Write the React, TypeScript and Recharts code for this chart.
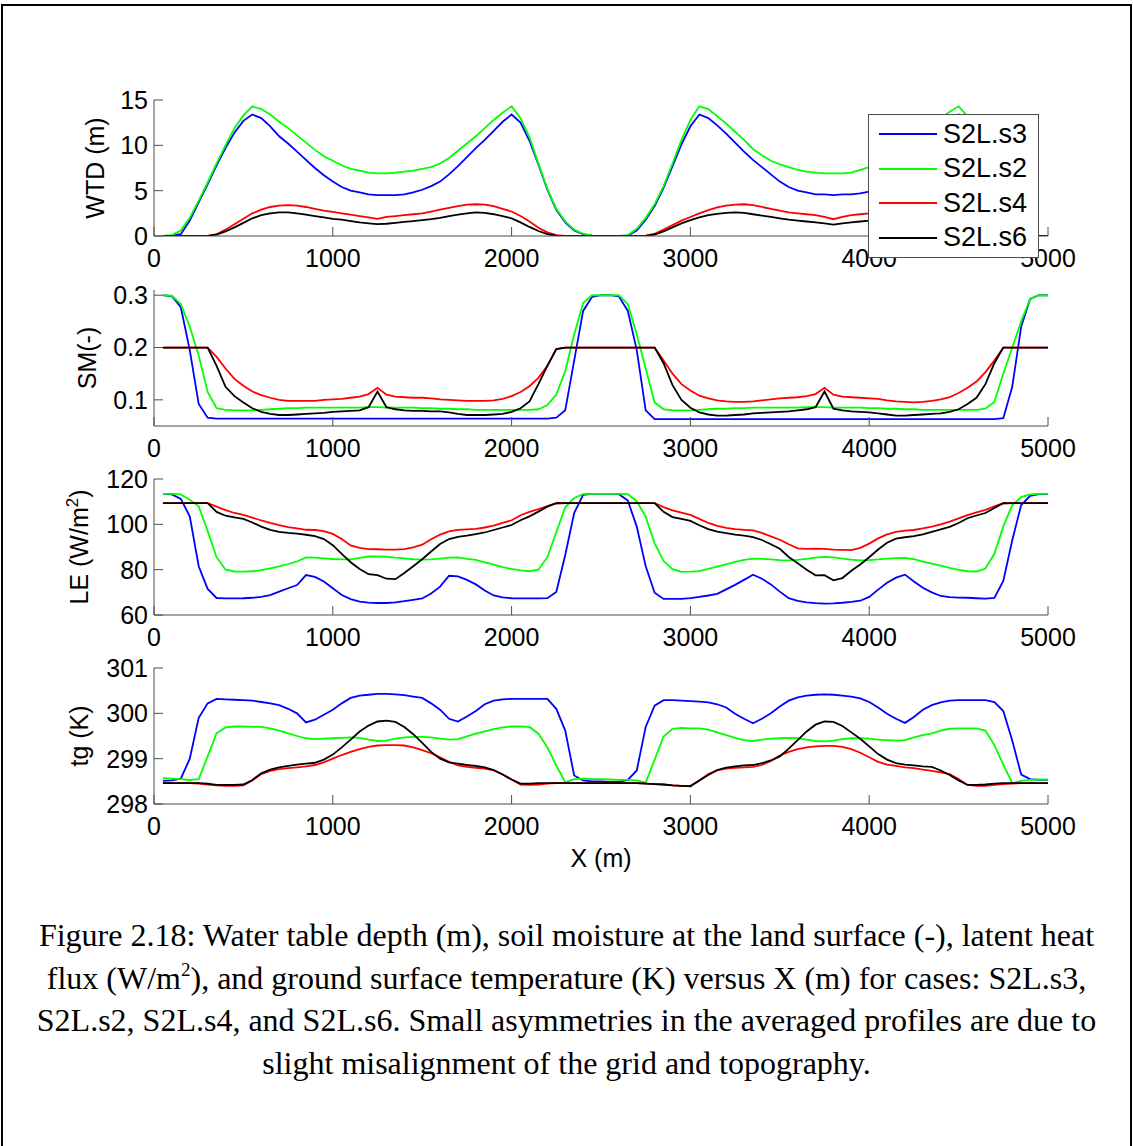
import { LineChart, Line, XAxis, YAxis } from "recharts";

// x positions of the averaged profiles (m)
const X_M = [
  50, 100, 150, 200, 250, 300, 350, 400, 450, 500,
  550, 600, 650, 700, 750, 800, 850, 900, 950, 1000,
  1050, 1100, 1150, 1200, 1250, 1300, 1350, 1400, 1450, 1500,
  1550, 1600, 1650, 1700, 1750, 1800, 1850, 1900, 1950, 2000,
  2050, 2100, 2150, 2200, 2250, 2300, 2350, 2400, 2450, 2500,
  2550, 2600, 2650, 2700, 2750, 2800, 2850, 2900, 2950, 3000,
  3050, 3100, 3150, 3200, 3250, 3300, 3350, 3400, 3450, 3500,
  3550, 3600, 3650, 3700, 3750, 3800, 3850, 3900, 3950, 4000,
  4050, 4100, 4150, 4200, 4250, 4300, 4350, 4400, 4450, 4500,
  4550, 4600, 4650, 4700, 4750, 4800, 4850, 4900, 4950, 5000,
];

const X_TICKS = [0, 1000, 2000, 3000, 4000, 5000];

const SERIES_KEYS = ["s3", "s2", "s4", "s6"];
const SERIES_NAMES = ["S2L.s3", "S2L.s2", "S2L.s4", "S2L.s6"];
const SERIES_COLORS = ["#0000ff", "#00ff00", "#ff0000", "#000000"];

// water table depth (m)
const WTD_S3 = [
  0, 0.05, 0.2, 1.7, 3.7, 5.7, 7.8, 9.7, 11.4, 12.7,
  13.4, 13.0, 12.1, 11.0, 10.2, 9.3, 8.4, 7.5, 6.7, 6.0,
  5.4, 5.0, 4.8, 4.6, 4.5, 4.5, 4.5, 4.6, 4.8, 5.1,
  5.5, 6.0, 6.8, 7.7, 8.7, 9.7, 10.6, 11.6, 12.6, 13.4,
  12.5, 10.5, 7.9, 5.1, 2.9, 1.5, 0.6, 0.2, 0.03, 0,
  0, 0, 0.05, 0.6, 1.8, 3.3, 5.3, 7.7, 10.1, 12.1,
  13.4, 13.0, 12.2, 11.3, 10.3, 9.3, 8.4, 7.6, 6.8, 6.0,
  5.4, 5.0, 4.8, 4.6, 4.6, 4.5, 4.6, 4.6, 4.7, 4.9,
  5.3, 5.8, 6.5, 7.3, 8.2, 9.2, 10.3, 11.4, 12.5, 13.4,
  12.5, 10.5, 7.9, 5.1, 2.9, 1.5, 0.6, 0.2, 0.03, 0,
];
const WTD_S2 = [
  0, 0.1, 0.6, 2.0, 3.9, 5.9, 8.0, 10.0, 11.9, 13.3,
  14.3, 14.0, 13.4, 12.6, 11.9, 11.1, 10.3, 9.5, 8.8, 8.3,
  7.8, 7.4, 7.2, 7.0, 6.9, 6.9, 7.0, 7.1, 7.2, 7.4,
  7.6, 8.0, 8.6, 9.4, 10.2, 11.0, 11.9, 12.8, 13.6, 14.3,
  13.0, 10.9, 8.0, 5.2, 3.0, 1.6, 0.7, 0.25, 0.05, 0,
  0, 0, 0.1, 0.8, 2.0, 3.5, 5.5, 8.0, 10.6, 12.8,
  14.3, 14.0, 13.2, 12.4, 11.5, 10.6, 9.6, 8.9, 8.3, 7.9,
  7.6, 7.3, 7.1, 7.0, 6.9, 6.9, 6.9, 7.0, 7.3, 7.6,
  7.9, 8.3, 8.9, 9.6, 10.4, 11.2, 12.1, 13.0, 13.7, 14.3,
  13.2, 11.0, 8.2, 5.4, 3.1, 1.6, 0.7, 0.2, 0.05, 0,
];
const WTD_S4 = [
  0, 0, 0, 0, 0, 0.02, 0.2, 0.7, 1.3, 1.9,
  2.5, 2.9, 3.2, 3.35, 3.4, 3.35, 3.2, 3.0, 2.8, 2.65,
  2.5, 2.35, 2.2, 2.05, 1.9, 2.1, 2.2, 2.3, 2.4, 2.5,
  2.7, 2.9, 3.1, 3.3, 3.45, 3.5, 3.45, 3.3, 3.0, 2.7,
  2.2, 1.6, 0.9, 0.4, 0.1, 0, 0, 0, 0, 0,
  0, 0, 0, 0, 0.05, 0.25, 0.7, 1.2, 1.7, 2.1,
  2.5, 2.85, 3.15, 3.35, 3.45, 3.5, 3.4, 3.2, 3.0, 2.8,
  2.6, 2.5, 2.4, 2.3, 2.1, 1.85, 2.1, 2.3, 2.4, 2.5,
  2.6, 2.8, 3.0, 3.2, 3.35, 3.45, 3.4, 3.3, 3.1, 2.8,
  2.4, 1.8, 1.2, 0.6, 0.25, 0.05, 0, 0, 0, 0,
];
const WTD_S6 = [
  0, 0, 0, 0, 0, 0.01, 0.15, 0.5, 0.95, 1.45,
  1.95, 2.3, 2.5, 2.6, 2.6, 2.5, 2.35, 2.2, 2.05, 1.9,
  1.8, 1.65, 1.5, 1.4, 1.3, 1.35, 1.45, 1.55, 1.65, 1.75,
  1.85, 2.0, 2.2, 2.35, 2.5, 2.6, 2.55, 2.4, 2.2, 1.95,
  1.5, 1.0, 0.55, 0.2, 0.05, 0, 0, 0, 0, 0,
  0, 0, 0, 0, 0.02, 0.15, 0.5, 0.95, 1.4, 1.75,
  2.05, 2.3, 2.45, 2.55, 2.6, 2.55, 2.4, 2.25, 2.1, 1.95,
  1.8, 1.7, 1.6, 1.5, 1.4, 1.25, 1.4, 1.5, 1.6, 1.7,
  1.85, 2.0, 2.2, 2.4, 2.55, 2.6, 2.55, 2.4, 2.2, 1.9,
  1.5, 1.0, 0.55, 0.2, 0.05, 0, 0, 0, 0, 0,
];

// surface soil moisture (-)
const SM_S3 = [
  0.3, 0.298, 0.277, 0.195, 0.092, 0.066, 0.064, 0.064, 0.064, 0.064,
  0.064, 0.064, 0.064, 0.064, 0.064, 0.064, 0.064, 0.064, 0.064, 0.064,
  0.064, 0.064, 0.064, 0.064, 0.064, 0.064, 0.064, 0.064, 0.064, 0.064,
  0.064, 0.064, 0.064, 0.064, 0.064, 0.064, 0.064, 0.064, 0.064, 0.064,
  0.064, 0.064, 0.064, 0.064, 0.066, 0.08, 0.175, 0.27, 0.297, 0.3,
  0.3, 0.298, 0.27, 0.195, 0.08, 0.063, 0.063, 0.063, 0.063, 0.063,
  0.063, 0.063, 0.063, 0.063, 0.063, 0.063, 0.063, 0.063, 0.063, 0.063,
  0.063, 0.063, 0.063, 0.063, 0.063, 0.063, 0.063, 0.063, 0.063, 0.063,
  0.063, 0.063, 0.063, 0.063, 0.063, 0.063, 0.063, 0.063, 0.063, 0.063,
  0.063, 0.063, 0.063, 0.063, 0.065, 0.125, 0.24, 0.293, 0.3, 0.3,
];
const SM_S2 = [
  0.3, 0.299, 0.283, 0.24, 0.185, 0.115, 0.084, 0.081, 0.08, 0.08,
  0.08, 0.081, 0.082, 0.083, 0.084, 0.084, 0.085, 0.085, 0.085, 0.085,
  0.085, 0.085, 0.085, 0.086, 0.086, 0.085, 0.085, 0.085, 0.085, 0.084,
  0.084, 0.083, 0.083, 0.082, 0.082, 0.081, 0.081, 0.081, 0.081, 0.081,
  0.081, 0.081, 0.082, 0.09, 0.11, 0.155, 0.225, 0.285, 0.3, 0.3,
  0.3, 0.3, 0.283, 0.225, 0.16, 0.095, 0.082, 0.08, 0.08, 0.08,
  0.081, 0.082, 0.083, 0.083, 0.084, 0.084, 0.085, 0.085, 0.085, 0.085,
  0.085, 0.085, 0.086, 0.086, 0.086, 0.085, 0.085, 0.085, 0.085, 0.084,
  0.084, 0.083, 0.083, 0.082, 0.082, 0.081, 0.081, 0.081, 0.081, 0.081,
  0.081, 0.081, 0.083, 0.096, 0.15, 0.2, 0.25, 0.293, 0.3, 0.3,
];
const SM_S4 = [
  0.2, 0.2, 0.2, 0.2, 0.2, 0.2, 0.182, 0.16, 0.14, 0.127,
  0.116, 0.109, 0.104, 0.1, 0.098, 0.098, 0.098, 0.098, 0.1, 0.101,
  0.102, 0.104, 0.106, 0.111, 0.123, 0.11, 0.106, 0.105, 0.104, 0.104,
  0.103, 0.101, 0.1, 0.099, 0.098, 0.098, 0.098, 0.099, 0.102, 0.107,
  0.115, 0.126, 0.142, 0.165, 0.197, 0.2, 0.2, 0.2, 0.2, 0.2,
  0.2, 0.2, 0.2, 0.2, 0.2, 0.2, 0.175, 0.15, 0.13, 0.118,
  0.108, 0.103, 0.099, 0.097, 0.096, 0.096, 0.097, 0.099, 0.101, 0.103,
  0.104, 0.105, 0.107, 0.111, 0.123, 0.11, 0.106, 0.105, 0.104, 0.103,
  0.102, 0.099, 0.097, 0.096, 0.095, 0.096, 0.098, 0.101, 0.105, 0.113,
  0.123, 0.135, 0.153, 0.175, 0.2, 0.2, 0.2, 0.2, 0.2, 0.2,
];
const SM_S6 = [
  0.2, 0.2, 0.2, 0.2, 0.2, 0.2, 0.165, 0.125, 0.107, 0.095,
  0.084, 0.077, 0.073, 0.071, 0.071, 0.072, 0.073, 0.074, 0.075, 0.077,
  0.078, 0.079, 0.08, 0.086, 0.116, 0.086, 0.082, 0.08, 0.079, 0.079,
  0.078, 0.078, 0.076, 0.073, 0.071, 0.071, 0.071, 0.072, 0.073, 0.077,
  0.084, 0.097, 0.13, 0.165, 0.197, 0.2, 0.2, 0.2, 0.2, 0.2,
  0.2, 0.2, 0.2, 0.2, 0.2, 0.2, 0.17, 0.128, 0.1, 0.085,
  0.076, 0.072, 0.07, 0.07, 0.071, 0.072, 0.074, 0.075, 0.076, 0.077,
  0.078, 0.08, 0.082, 0.086, 0.116, 0.083, 0.08, 0.078, 0.077, 0.076,
  0.074, 0.072, 0.07, 0.07, 0.071, 0.072, 0.073, 0.074, 0.077, 0.082,
  0.092, 0.104, 0.13, 0.17, 0.2, 0.2, 0.2, 0.2, 0.2, 0.2,
];

// latent heat flux (W/m2)
const LE_S3 = [
  113.4, 113.2, 111.2, 103.5, 81.5, 71.5, 67.5, 67.3, 67.3, 67.4,
  67.6, 68, 68.8, 70.3, 71.8, 73.2, 77.6, 76.8, 74.8, 71.8,
  68.8, 67.0, 65.9, 65.5, 65.3, 65.3, 65.6, 66.1, 66.7, 67.3,
  69.5, 72.5, 77.3, 77.0, 75.5, 73.5, 70.8, 68.6, 67.8, 67.4,
  67.3, 67.3, 67.3, 67.4, 70.2, 86.5, 105, 113, 113.4, 113.4,
  113.4, 113.3, 110.5, 99, 81.5, 69.8, 67.1, 67.1, 67.1, 67.4,
  68, 68.6, 69.3, 71.3, 73.3, 75.5, 77.8, 76, 73.5, 70.3,
  67.4, 66.2, 65.6, 65.2, 65, 65.1, 65.4, 65.8, 66.3, 68,
  71.2, 74.2, 76.5, 77.8, 74.8, 72, 70, 68.4, 67.9, 67.7,
  67.6, 67.4, 67.2, 67.5, 75, 93, 108.5, 112.6, 113.3, 113.4,
];
const LE_S2 = [
  113.4, 113.4, 113.2, 110.8, 108, 97, 85.5, 80, 79.2, 79.1,
  79.3, 79.8, 80.6, 81.5, 82.5, 83.6, 85.4, 85.3, 85, 84.7,
  84.5, 84.5, 85.2, 85.8, 85.9, 85.7, 85.3, 85, 84.6, 84.4,
  84.5, 84.9, 85.3, 85.4, 84.8, 84.3, 83.2, 82.2, 81.1, 80.3,
  79.7, 79.3, 80, 85.5, 96.5, 107.5, 111.6, 113.3, 113.4, 113.4,
  113.4, 113.4, 113.3, 110.2, 103.4, 91.6, 83.8, 80.2, 79, 79.1,
  79.4, 80.3, 81.3, 82.3, 83.4, 84.3, 84.9, 84.8, 84.5, 84.2,
  84.1, 84.3, 84.8, 85.3, 85.6, 85.4, 84.9, 84.4, 84.1, 84.2,
  84.5, 84.9, 85.1, 85.2, 84.6, 83.6, 82.7, 81.8, 80.8, 79.9,
  79.3, 79.2, 80.5, 87, 99, 108.5, 112, 113.2, 113.4, 113.4,
];
const LE_S4 = [
  109.4, 109.4, 109.4, 109.4, 109.4, 109.4, 107.8, 106.3, 105, 104.2,
  103, 101.7, 100.6, 99.6, 98.8, 98.2, 97.6, 97.5, 97, 95.8,
  93.5, 90.7, 89.6, 89.1, 89, 88.8, 88.8, 89.1, 89.8, 91,
  93.4, 95.5, 96.9, 97.6, 97.8, 98, 98.6, 99.4, 100.6, 101.8,
  104, 105.5, 106.7, 108, 109.3, 109.4, 109.4, 109.4, 109.4, 109.4,
  109.4, 109.4, 109.4, 109.4, 109.4, 109.4, 107.6, 106.2, 105.2, 104.2,
  102.4, 100.6, 99.3, 98.4, 97.9, 97.6, 97.3, 96.2, 94.7, 93.2,
  91.2, 89.4, 89.2, 89.3, 89.2, 88.8, 88.7, 88.6, 89.6, 91.5,
  93.8, 95.6, 96.7, 97.2, 97.5, 98.2, 99, 100, 101.2, 102.6,
  104.1, 105.3, 106.4, 107.9, 109.3, 109.4, 109.4, 109.4, 109.4, 109.4,
];
const LE_S6 = [
  109.4, 109.4, 109.4, 109.4, 109.4, 109.4, 105.5, 103.8, 103.1, 102.4,
  100.8, 99, 97.6, 96.7, 96.2, 95.9, 95.4, 94.8, 93.5, 90.8,
  87, 83.3, 80.3, 78, 77.6, 76, 75.8, 78.5, 81.5, 84.6,
  88, 91.3, 93.5, 94.5, 95, 95.7, 96.4, 97.5, 98.6, 99.7,
  101.8, 103.5, 105.6, 107.8, 109.3, 109.4, 109.4, 109.4, 109.4, 109.4,
  109.4, 109.4, 109.4, 109.4, 109.4, 109.4, 105.5, 103.2, 102.4, 101.5,
  99.6, 97.9, 96.8, 96.1, 95.5, 95, 94.4, 93.1, 91.2, 89.2,
  85.6, 82.8, 80, 77.5, 77.6, 75.3, 76.3, 79.5, 82.3, 85.5,
  88.9, 91.9, 93.7, 94.3, 94.8, 95.6, 96.7, 97.8, 98.9, 100.6,
  102.7, 103.9, 105, 107.2, 109.3, 109.4, 109.4, 109.4, 109.4, 109.4,
];

// ground surface temperature (K)
const TG_S3 = [
  298.51, 298.52, 298.56, 299.0, 299.9, 300.22, 300.32, 300.31, 300.3, 300.29,
  300.28, 300.25, 300.22, 300.18, 300.1, 300.0, 299.8, 299.86, 299.97, 300.08,
  300.22, 300.34, 300.39, 300.41, 300.43, 300.43, 300.42, 300.4, 300.37, 300.34,
  300.22, 300.08, 299.88, 299.82, 299.93, 300.05, 300.2, 300.28, 300.31, 300.32,
  300.32, 300.32, 300.32, 300.32, 300.1, 299.62, 298.63, 298.52, 298.5, 298.5,
  298.49, 298.49, 298.53, 298.74, 299.7, 300.17, 300.29, 300.29, 300.28, 300.27,
  300.26, 300.24, 300.2, 300.13, 299.99, 299.88, 299.78, 299.88, 300.0, 300.15,
  300.28, 300.35, 300.39, 300.41, 300.42, 300.41, 300.39, 300.37, 300.33, 300.25,
  300.13, 299.99, 299.88, 299.79, 299.92, 300.08, 300.18, 300.24, 300.28, 300.29,
  300.29, 300.29, 300.29, 300.25, 300.05, 299.4, 298.65, 298.55, 298.53, 298.53,
];
const TG_S2 = [
  298.57, 298.56, 298.55, 298.53, 298.55, 299.05, 299.56, 299.69, 299.71, 299.71,
  299.7, 299.7, 299.67, 299.62, 299.56, 299.5, 299.45, 299.43, 299.44, 299.45,
  299.46, 299.47, 299.46, 299.42, 299.39, 299.4, 299.44, 299.47, 299.48, 299.48,
  299.47, 299.44, 299.42, 299.43, 299.49, 299.55, 299.6, 299.65, 299.69, 299.71,
  299.71, 299.7, 299.55, 299.25, 298.85, 298.48, 298.55, 298.56, 298.55, 298.55,
  298.54, 298.53, 298.53, 298.52, 298.47, 298.98, 299.49, 299.66, 299.68, 299.67,
  299.67, 299.64, 299.58, 299.52, 299.46, 299.41, 299.39, 299.42, 299.44, 299.45,
  299.46, 299.45, 299.42, 299.39, 299.38, 299.4, 299.43, 299.45, 299.45, 299.44,
  299.42, 299.41, 299.4, 299.41, 299.47, 299.52, 299.56, 299.62, 299.66, 299.67,
  299.67, 299.67, 299.62, 299.3, 298.87, 298.46, 298.51, 298.53, 298.54, 298.54,
];
const TG_S4 = [
  298.46, 298.46, 298.46, 298.46, 298.45, 298.43, 298.41, 298.4, 298.4, 298.41,
  298.52, 298.66, 298.73, 298.77, 298.79, 298.81, 298.83, 298.86, 298.92, 299.0,
  299.08, 299.15, 299.21, 299.26, 299.29, 299.3, 299.3, 299.29, 299.25, 299.19,
  299.12, 299.03, 298.93, 298.85, 298.82, 298.8, 298.78, 298.74, 298.65, 298.54,
  298.43, 298.42, 298.43, 298.45, 298.46, 298.46, 298.46, 298.46, 298.46, 298.46,
  298.46, 298.46, 298.46, 298.46, 298.45, 298.44, 298.43, 298.41, 298.4, 298.4,
  298.52, 298.66, 298.74, 298.78, 298.8, 298.81, 298.82, 298.86, 298.95, 299.07,
  299.15, 299.21, 299.25, 299.27, 299.28, 299.28, 299.26, 299.21, 299.13, 299.03,
  298.93, 298.87, 298.84, 298.81, 298.79, 298.76, 298.73, 298.7, 298.66, 298.55,
  298.42, 298.4, 298.4, 298.42, 298.44, 298.45, 298.46, 298.46, 298.46, 298.46,
];
const TG_S6 = [
  298.46, 298.46, 298.46, 298.46, 298.46, 298.45, 298.42, 298.42, 298.42, 298.43,
  298.53, 298.68, 298.76, 298.81, 298.84, 298.87, 298.89, 298.91, 298.98, 299.09,
  299.25, 299.42, 299.6, 299.73, 299.82, 299.84, 299.81, 299.7, 299.54, 299.35,
  299.15, 299.0, 298.92, 298.89, 298.86, 298.84, 298.81, 298.75, 298.65, 298.54,
  298.45, 298.45, 298.46, 298.46, 298.46, 298.46, 298.46, 298.46, 298.46, 298.46,
  298.46, 298.46, 298.46, 298.46, 298.45, 298.44, 298.43, 298.41, 298.4, 298.39,
  298.52, 298.64, 298.75, 298.8, 298.83, 298.85, 298.86, 298.9, 298.96, 299.05,
  299.22, 299.41, 299.6, 299.75, 299.82, 299.81, 299.72, 299.58, 299.44, 299.27,
  299.1, 298.98, 298.9, 298.87, 298.85, 298.83, 298.82, 298.74, 298.64, 298.52,
  298.42, 298.42, 298.43, 298.45, 298.46, 298.46, 298.46, 298.46, 298.46, 298.46,
];

const toRows = (cols: number[][]) =>
  X_M.map((x, i) => {
    const row: Record<string, number> = { x };
    SERIES_KEYS.forEach((k, j) => (row[k] = cols[j][i]));
    return row;
  });

const FONT = "'Liberation Sans', Arial, Helvetica, sans-serif";
const AXIS_COLOR = "#4d4d4d";
const PAD_TOP = 22;
const PLOT_H = 136;
const X_AXIS_H = 80;
const FS = 25;
const tickStyle = { fontSize: FS, fill: "#000", fontFamily: FONT };

type PanelProps = {
  top: number;
  data: Record<string, number>[];
  domain: [number, number];
  ticks: number[];
  title: React.ReactNode;
  titleX: number;
  xTitle?: string;
};

function Panel({ top, data, domain, ticks, title, titleX, xTitle }: PanelProps) {
  const cy = PAD_TOP + PLOT_H / 2;
  return (
    <div style={{ position: "absolute", left: 0, top: top - PAD_TOP }}>
      <LineChart
        width={1133}
        height={PAD_TOP + PLOT_H + X_AXIS_H}
        data={data}
        margin={{ top: PAD_TOP, right: 85, bottom: 0, left: 94 }}
      >
        <XAxis
          xAxisId="b"
          dataKey="x"
          type="number"
          domain={[0, 5000]}
          ticks={X_TICKS}
          interval={0}
          height={X_AXIS_H}
          stroke={AXIS_COLOR}
          tickSize={-9}
          tickMargin={22}
          tick={tickStyle}
          label={
            xTitle
              ? () => (
                  <text
                    x={601}
                    y={PAD_TOP + PLOT_H + 63}
                    textAnchor="middle"
                    fontSize={FS}
                    fontFamily={FONT}
                    fill="#000"
                  >
                    {xTitle}
                  </text>
                )
              : undefined
          }
        />
        <XAxis
          xAxisId="t"
          orientation="top"
          dataKey="x"
          type="number"
          domain={[0, 5000]}
          ticks={X_TICKS}
          interval={0}
          height={0}
          stroke={AXIS_COLOR}
          tickSize={-9}
          tickFormatter={() => ""}
        />
        <YAxis
          yAxisId="l"
          type="number"
          domain={domain}
          ticks={ticks}
          interval={0}
          allowDataOverflow
          width={60}
          stroke={AXIS_COLOR}
          tickSize={-9}
          tickMargin={15}
          tick={tickStyle}
          label={() => (
            <text
              x={titleX}
              y={cy}
              transform={`rotate(-90 ${titleX} ${cy})`}
              textAnchor="middle"
              fontSize={FS}
              fontFamily={FONT}
              fill="#000"
            >
              {title}
            </text>
          )}
        />
        <YAxis
          yAxisId="r"
          orientation="right"
          type="number"
          domain={domain}
          ticks={ticks}
          interval={0}
          allowDataOverflow
          width={0}
          stroke={AXIS_COLOR}
          tickSize={-9}
          tickFormatter={() => ""}
        />
        {SERIES_KEYS.map((k, i) => (
          <Line
            key={k}
            xAxisId="b"
            yAxisId="l"
            type="linear"
            dataKey={k}
            name={SERIES_NAMES[i]}
            stroke={SERIES_COLORS[i]}
            strokeWidth={1.8}
            dot={false}
            isAnimationActive={false}
          />
        ))}
      </LineChart>
    </div>
  );
}

function LegendBox() {
  return (
    <div
      style={{
        position: "absolute",
        left: 868,
        top: 114,
        width: 171,
        height: 144,
        background: "#fff",
        border: `1px solid ${AXIS_COLOR}`,
        boxSizing: "border-box",
        fontFamily: FONT,
      }}
    >
      {SERIES_NAMES.map((name, i) => (
        <div
          key={name}
          style={{
            position: "absolute",
            left: 0,
            top: 2 + i * 34.5,
            height: 34,
            display: "flex",
            alignItems: "center",
          }}
        >
          <div style={{ marginLeft: 10, width: 58, height: 2, background: SERIES_COLORS[i] }} />
          <span style={{ marginLeft: 6, fontSize: 27, color: "#000", whiteSpace: "nowrap" }}>{name}</span>
        </div>
      ))}
    </div>
  );
}

const CAPTION_LINE = { height: 42.5, lineHeight: "42.5px", overflow: "visible" as const };

export default function App() {
  const sup = { fontSize: 19, position: "relative" as const, top: -13, lineHeight: 0 };
  return (
    <div
      style={{
        position: "absolute",
        left: 0,
        top: 0,
        width: 1133,
        height: 1146,
        background: "#fff",
        overflow: "hidden",
      }}
    >
      <div
        style={{
          position: "absolute",
          left: 1,
          top: 4,
          width: 1131,
          height: 1200,
          borderTop: "2px solid #000",
          borderLeft: "2px solid #000",
          borderRight: "2px solid #000",
          boxSizing: "border-box",
        }}
      />
      <Panel
        top={100}
        data={toRows([WTD_S3, WTD_S2, WTD_S4, WTD_S6])}
        domain={[0, 15]}
        ticks={[0, 5, 10, 15]}
        title="WTD (m)"
        titleX={104}
      />
      <Panel
        top={290}
        data={toRows([SM_S3, SM_S2, SM_S4, SM_S6])}
        domain={[0.05, 0.31]}
        ticks={[0.1, 0.2, 0.3]}
        title="SM(-)"
        titleX={96}
      />
      <Panel
        top={479}
        data={toRows([LE_S3, LE_S2, LE_S4, LE_S6])}
        domain={[60, 120]}
        ticks={[60, 80, 100, 120]}
        title={
          <>
            LE (W/m
            <tspan dy={-10} fontSize={17}>2</tspan>
            <tspan dy={10}>)</tspan>
          </>
        }
        titleX={88}
      />
      <Panel
        top={668}
        data={toRows([TG_S3, TG_S2, TG_S4, TG_S6])}
        domain={[298, 301]}
        ticks={[298, 299, 300, 301]}
        title="tg (K)"
        titleX={88}
        xTitle="X (m)"
      />
      <LegendBox />
      <div
        style={{
          position: "absolute",
          left: 0,
          top: 914,
          width: 1133,
          textAlign: "center",
          fontFamily: "'Liberation Serif', 'Times New Roman', serif",
          fontSize: 32,
          color: "#000",
          whiteSpace: "nowrap",
        }}
      >
        <div style={CAPTION_LINE}>
          Figure 2.18: Water table depth (m), soil moisture at the land surface (-), latent heat
        </div>
        <div style={CAPTION_LINE}>
          flux (W/m<span style={sup}>2</span>), and ground surface temperature (K) versus X (m) for cases: S2L.s3,
        </div>
        <div style={CAPTION_LINE}>
          S2L.s2, S2L.s4, and S2L.s6. Small asymmetries in the averaged profiles are due to
        </div>
        <div style={CAPTION_LINE}>slight misalignment of the grid and topography.</div>
      </div>
    </div>
  );
}
